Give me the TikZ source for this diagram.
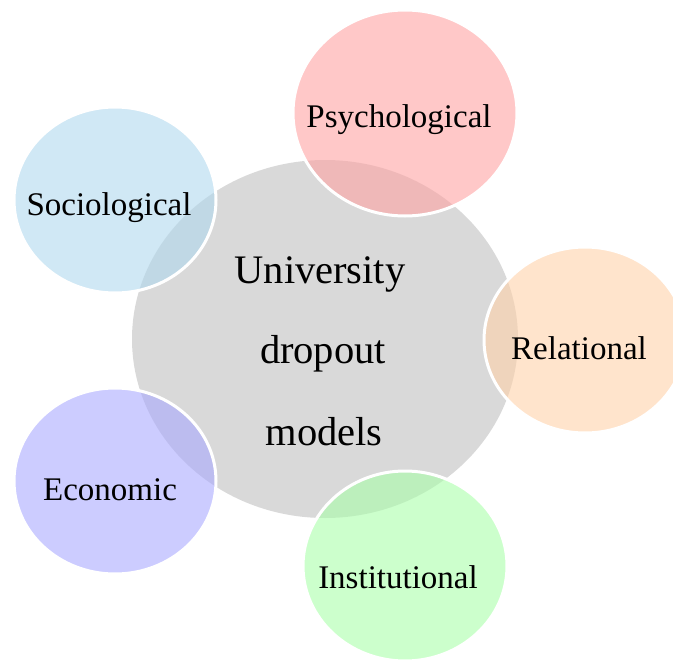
\documentclass[tikz,border=0pt]{standalone}
\usepackage{fontspec}
\setmainfont{Liberation Serif}
\definecolor{cgray}{RGB}{217,217,217}
\definecolor{cpink}{RGB}{255,163,163}
\definecolor{cblue}{RGB}{176,216,238}
\definecolor{corange}{RGB}{255,210,170}
\definecolor{cgreen}{RGB}{170,255,170}
\definecolor{cpurple}{RGB}{170,170,255}
\tikzset{
  outer/.style={fill opacity=0.6},
  rim/.style={draw=white, line width=3pt},
  lbl/.style={anchor=base, inner sep=0pt, font=\fontsize{33}{33}\selectfont},
  clbl/.style={anchor=base, inner sep=0pt, font=\fontsize{40.5}{40.5}\selectfont},
}
\begin{document}
\begin{tikzpicture}[x=1pt,y=-1pt]
\useasboundingbox (0,0) rectangle (673,661);
\fill[cgray] (325,339) ellipse [x radius=193, y radius=179];
\fill[cpink, outer] (405,113) ellipse [x radius=112, y radius=103];
\fill[cblue, outer] (115,200) ellipse [x radius=101, y radius=93];
\fill[corange, outer] (585,340) ellipse [x radius=101, y radius=93];
\fill[cpurple, outer] (115,481) ellipse [x radius=101, y radius=93];
\fill[cgreen, outer] (405,566) ellipse [x radius=102, y radius=95];
\path[rim] (405,113) ellipse [x radius=112, y radius=103];
\path[rim] (115,200) ellipse [x radius=101, y radius=93];
\path[rim] (585,340) ellipse [x radius=101, y radius=93];
\path[rim] (115,481) ellipse [x radius=101, y radius=93];
\path[rim] (405,566) ellipse [x radius=102, y radius=95];
\node[lbl] (psy) at (399,128) {Psychological};
\node[lbl] (soc) at (109,215) {Sociological};
\node[lbl] (rel) at (579,359) {Relational};
\node[lbl] (eco) at (110,500) {Economic};
\node[lbl] (ins) at (398,588) {Institutional};
\node[clbl] (u1) at (320,283) {University};
\node[clbl] (u2) at (323,363) {dropout};
\node[clbl] (u3) at (324,445) {models};
\end{tikzpicture}
\end{document}
